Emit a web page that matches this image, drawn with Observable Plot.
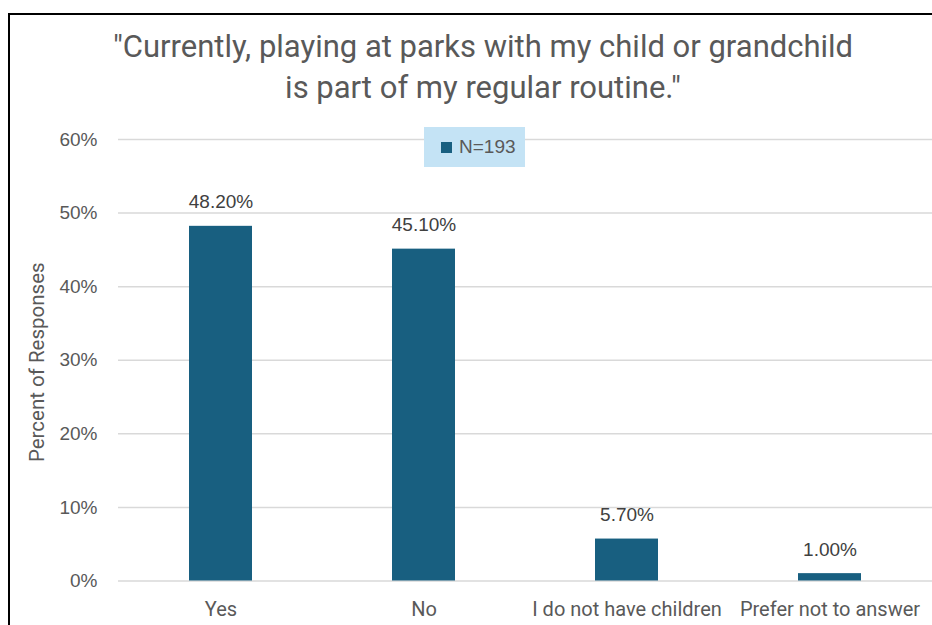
<!DOCTYPE html>
<html>
<head>
<meta charset="utf-8">
<script src="https://cdn.jsdelivr.net/npm/d3@7"></script>
<script src="https://cdn.jsdelivr.net/npm/@observablehq/plot@0.6"></script>
<style>
  html, body { margin: 0; padding: 0; background: #fff; }
  #wrap { position: relative; width: 932px; height: 625px; overflow: hidden; font-family: Roboto, "Liberation Sans", sans-serif; }
  #frame { position: absolute; left: 8px; top: 13px; width: 940px; height: 640px; border-left: 2px solid #000; border-top: 2px solid #000; box-sizing: border-box; }
  #title { position: absolute; left: 0; width: 966px; top: 26px; text-align: center; font-size: 31px; line-height: 41px; color: #595959; }
  #legend { position: absolute; left: 424px; top: 127px; width: 101px; height: 40px; background: #c4e3f5; color: #595959; font-family: "Liberation Sans", Arial, sans-serif; font-size: 19px; box-sizing: border-box; }
  #legend .sw { position: absolute; left: 17px; top: 15px; width: 11px; height: 11px; background: #185f80; }
  #legend .lb { position: absolute; left: 35px; top: 9px; line-height: 22px; }
  #chart { position: absolute; left: 0; top: 0; }
</style>
</head>
<body>
<div id="wrap">
  <div id="chart"></div>
  <div id="frame"></div>
  <div id="title">"Currently, playing at parks with my child or grandchild<br>is part of my regular routine."</div>
  <div id="legend"><div class="sw"></div><div class="lb"></div></div>
</div>
<script>
const categories = ["Yes", "No", "I do not have children", "Prefer not to answer"];
const values = [0.482, 0.451, 0.057, 0.010];
const valueLabels = ["48.20%", "45.10%", "5.70%", "1.00%"];
const yTicks = [0, 0.1, 0.2, 0.3, 0.4, 0.5, 0.6];
const yTickLabels = ["0%", "10%", "20%", "30%", "40%", "50%", "60%"];
const legendLabel = "N=193";
const axisTitle = "Percent of Responses";

const data = categories.map((c, i) => ({category: c, value: values[i], label: valueLabels[i]}));
document.querySelector("#legend .lb").textContent = legendLabel;

const numFont = "'Liberation Sans', Arial, sans-serif";
const chart = Plot.plot({
  width: 932,
  height: 625,
  marginTop: 139,
  marginBottom: 44.5,
  marginLeft: 118,
  marginRight: 0,
  style: {fontFamily: "Roboto, 'Liberation Sans', sans-serif", color: "#595959", background: "transparent"},
  x: {domain: categories, paddingInner: 0.69, paddingOuter: 0.345, label: null},
  y: {domain: [0, 0.6], label: null},
  marks: [
    Plot.ruleY(yTicks, {stroke: "#d9d9d9", strokeWidth: 1.5}),
    Plot.barY(data, {x: "category", y: "value", fill: "#185f80"}),
    Plot.text(data, {x: "category", y: "value", text: "label", dy: -24, lineAnchor: "middle", fontSize: 19, fontFamily: numFont, fill: "#404040"}),
    Plot.axisY({ticks: yTicks, tickFormat: (d, i) => yTickLabels[i], tickSize: 0, tickPadding: 21, fontSize: 19, fontFamily: numFont, label: null}),
    Plot.axisX({tickSize: 0, tickPadding: 20.5, fontSize: 20, label: null}),
    Plot.text([axisTitle], {frameAnchor: "left", rotate: -90, dx: -81, dy: 2, textAnchor: "middle", lineAnchor: "middle", fontSize: 20.5, fill: "#595959"})
  ]
});
document.getElementById("chart").appendChild(chart);
</script>
</body>
</html>
